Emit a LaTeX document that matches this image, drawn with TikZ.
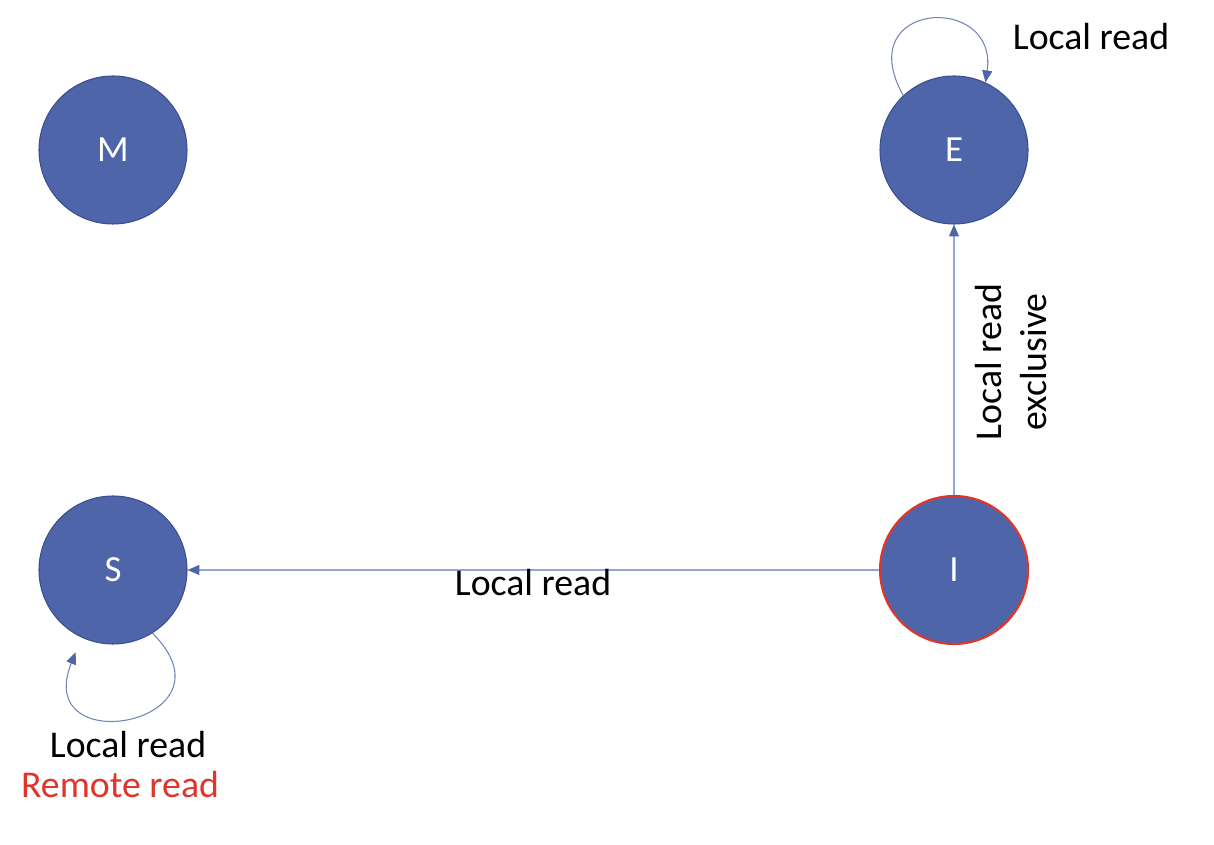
\documentclass[tikz,border=0pt]{standalone}
\usepackage{fontspec}
\setmainfont{Carlito}
\usetikzlibrary{arrows.meta}
\definecolor{stateblue}{HTML}{4F65A9}
\definecolor{stateedge}{HTML}{3A4F8C}
\definecolor{linkblue}{HTML}{94A6D8}
\definecolor{remotered}{HTML}{E0352B}
\tikzset{
  state/.style={circle, fill=stateblue, draw=stateedge, line width=0.6pt,
    minimum size=2.96cm, inner sep=0pt, text=white,
    font=\fontsize{21}{25}\selectfont},
  link/.style={draw=linkblue, line width=0.6pt,
    -{Triangle[length=6.8pt, width=5.7pt, color=stateblue]}},
  lbl/.style={font=\fontsize{21.5}{26}\selectfont, align=center}
}
\begin{document}
\begin{tikzpicture}
            %\draw[lightgray] (0, 0) grid (24, 16);
            \useasboundingbox (0, 0) rectangle (24.28, 16.88);
            \node[state] (M) at (2.26, 13.88) {M};
            \node[state] (E) at (19.08, 13.88) {E};
            \node[state] (S) at (2.26, 5.48) {S};
            \node[state, draw=remotered, line width=1.2pt] (I) at (19.08, 5.48) {I};

            \draw[link] (I) -- (E);
            \draw[link] (I) -- (S);
            \draw[link, draw=stateblue!80] (E.133) .. controls +(-1.06, 1.9) and +(0.26, 1.8) .. (E.65);
            \draw[link, draw=stateblue!80, shorten >=9pt] (S.302) .. controls +(1.8, -1.8) and +(-1.0, -2.5) .. (S.245);

            \node[lbl] (eloop) at (21.82, 16.14) {Local read};
            \node[lbl] (istos) at (10.66, 5.22) {Local read};
            \node[lbl, rotate=90] (itoe) at (20.22, 9.64) {Local read\\exclusive};
            \node[lbl] (sloop) at (2.56, 1.98) {Local read};
            \node[lbl, text=remotered] (sremote) at (2.40, 1.18) {Remote read};
        \end{tikzpicture}
\end{document}
